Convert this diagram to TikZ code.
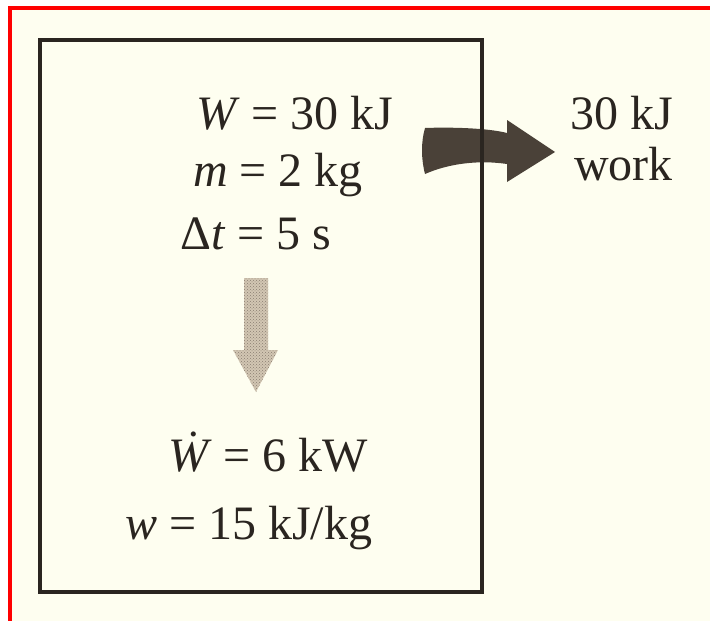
\documentclass[tikz,border=0pt]{standalone}
\usepackage{fontspec}
\setmainfont{Liberation Serif}
\usetikzlibrary{patterns}

\definecolor{paper}{HTML}{FEFEF0}
\definecolor{ink}{HTML}{2A2520}
\definecolor{workfill}{HTML}{4A4138}
\definecolor{ratefill}{HTML}{D2C6B3}
\definecolor{ratedots}{HTML}{8A7E70}

% dotted W (rate of work): the composed glyph when the font has it
\newcommand{\Wdot}{\textit{\iffontchar\font"1E86 Ẇ\else\rlap{\hspace{0.26em}\raisebox{0.86em}{.}}W\fi}}

\begin{document}
\begin{tikzpicture}[
  x=1pt, y=-1pt,
  font=\fontsize{48}{52}\selectfont,
  qty/.style={anchor=base west, inner sep=0pt, text=ink},
  sysbox/.style={draw=ink, line width=4pt},
  frame/.style={draw=red, line width=4pt},
  workarrow/.style={fill=workfill},
  ratearrow/.style={pattern=crosshatch dots, pattern color=ratedots,
                    preaction={fill=ratefill}}
]
\useasboundingbox (0,0) rectangle (710,621);

% ================= page =================
\fill[paper] (9.5,7.5) rectangle (710,621);
\draw[frame] (9.5,621) -- (9.5,7.5) -- (710,7.5);

% ================= given quantities =================
\node[qty] (work) at (196,129) {\textit{W} = 30 kJ};
\node[qty] (mass) at (193,186) {\textit{m} = 2 kg};
\node[qty] (dt) at (180,249) {Δ\textit{t} = 5 s};

% ================= derived quantities =================
\node[qty] (power) at (168,471) {\Wdot{} = 6 kW};
\node[qty] (spec) at (125,539) {\textit{w} = 15 kJ/kg};

% ================= output label =================
\node[qty] (out) at (570,129) {30 kJ};
\node[qty] (outlbl) at (574,180) {work};

% ================= block arrows =================
\path[ratearrow] (244,278) -- (268,278) -- (268,350) -- (278,350)
  -- (256,392) -- (233,350) -- (244,350) -- cycle;

\path[workarrow] (425,128) .. controls (450,127) and (488,128) .. (507,133)
  -- (507,120) -- (555,152) -- (507,182) -- (507,164)
  .. controls (480,160) and (450,163) .. (425,174)
  .. controls (421,158) and (421,142) .. cycle;

% ================= system boundary =================
\draw[sysbox] (40,39.5) rectangle (482,592);

\end{tikzpicture}
\end{document}
